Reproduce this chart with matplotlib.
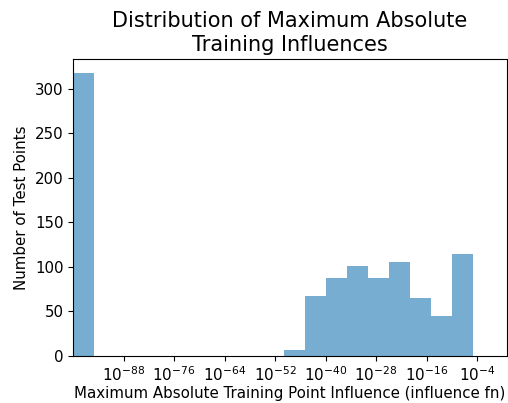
import numpy as np
import matplotlib
matplotlib.use("Agg")
import matplotlib.pyplot as plt
from matplotlib.ticker import NullLocator

# log10 bin edges (5 decades each) and counts per bin
bin_exponents = [-100, -95, -90, -85, -80, -75, -70, -65, -60, -55,
                 -50, -45, -40, -35, -30, -25, -20, -15, -10, -5]
counts = [318, 0, 0, 0, 0, 0, 0, 0, 0, 0,
          7, 67, 87, 101, 87, 106, 65, 45, 115]
tick_exponents = [-88, -76, -64, -52, -40, -28, -16, -4]

edges = 10.0 ** np.array(bin_exponents, dtype=float)

fig = plt.figure(figsize=(5.08, 4.03), dpi=100)
ax = fig.add_axes([0.144, 0.117, 0.854, 0.737])

ax.hist(edges[:-1], bins=edges, weights=counts, color="tab:blue", alpha=0.6)
ax.set_xscale("log")
ax.set_xlim(1e-100, 10 ** 3.1)
ax.set_xticks([10.0 ** e for e in tick_exponents])
ax.xaxis.set_minor_locator(NullLocator())
ax.tick_params(axis="x", labelsize=11, pad=3)
ax.tick_params(axis="y", labelsize=10.8)

ax.set_title("Distribution of Maximum Absolute\nTraining Influences", fontsize=15)
ax.set_xlabel("Maximum Absolute Training Point Influence (influence fn)", fontsize=10.8, labelpad=2)
ax.set_ylabel("Number of Test Points", fontsize=10.8)

fig.savefig("out.png", dpi=100)
